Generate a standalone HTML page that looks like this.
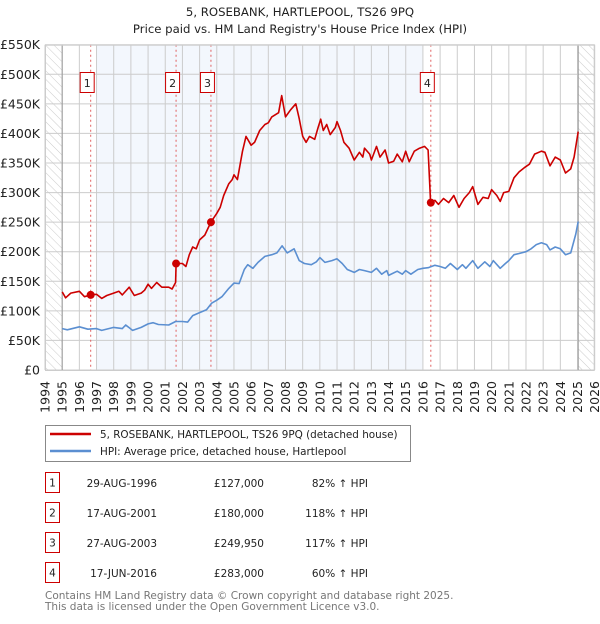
<!DOCTYPE html>
<html><head><meta charset="utf-8"><style>
body{margin:0;background:#fff;font-family:"DejaVu Sans","Liberation Sans",sans-serif;}
svg text{font-family:"DejaVu Sans","Liberation Sans",sans-serif;}
</style></head><body>
<svg id="chart" width="600" height="620" xmlns="http://www.w3.org/2000/svg">
<defs><pattern id="hatch" width="6" height="6" patternUnits="userSpaceOnUse" patternTransform="rotate(-45)"><line x1="0" y1="0" x2="0" y2="6" stroke="#ccc" stroke-width="1"/></pattern></defs>
<text x="300" y="16" text-anchor="middle" font-size="11.7" fill="#222">5, ROSEBANK, HARTLEPOOL, TS26 9PQ</text>
<text x="300" y="33" text-anchor="middle" font-size="11.7" fill="#222">Price paid vs. HM Land Registry's House Price Index (HPI)</text>
<g id="plot"></g>
<g>
<rect x="45.5" y="425.5" width="365" height="36" fill="#fff" stroke="#888"/>
<line x1="50" y1="434" x2="91" y2="434" stroke="#cc0000" stroke-width="2.5"/>
<text x="100" y="438" font-size="10.4" fill="#222">5, ROSEBANK, HARTLEPOOL, TS26 9PQ (detached house)</text>
<line x1="50" y1="451" x2="91" y2="451" stroke="#5b8fd1" stroke-width="2.5"/>
<text x="100" y="455" font-size="10.4" fill="#222">HPI: Average price, detached house, Hartlepool</text>
</g>
<g id="table" font-size="10.5" fill="#222"></g>
<text x="45" y="599" font-size="10.5" fill="#777">Contains HM Land Registry data © Crown copyright and database right 2025.</text>
<text x="45" y="610" font-size="10.5" fill="#777">This data is licensed under the Open Government Licence v3.0.</text>
</svg>
<script>
const redYears=[1995.0,1995.2,1995.5,1996.0,1996.3,1996.66,1997.0,1997.3,1997.6,1998.0,1998.3,1998.5,1998.9,1999.2,1999.6,1999.8,2000.0,2000.2,2000.5,2000.8,2001.2,2001.4,2001.6,2001.63,2002.0,2002.2,2002.4,2002.6,2002.8,2003.0,2003.3,2003.66,2004.0,2004.2,2004.4,2004.7,2004.9,2005.0,2005.2,2005.5,2005.7,2006.0,2006.2,2006.5,2006.8,2007.0,2007.2,2007.6,2007.78,2008.0,2008.3,2008.6,2008.8,2009.0,2009.2,2009.4,2009.7,2009.9,2010.05,2010.2,2010.4,2010.6,2010.9,2011.0,2011.2,2011.4,2011.7,2012.0,2012.3,2012.5,2012.6,2012.9,2013.0,2013.3,2013.5,2013.8,2014.0,2014.3,2014.5,2014.8,2015.0,2015.2,2015.5,2015.8,2016.1,2016.3,2016.45,2016.7,2016.9,2017.2,2017.5,2017.8,2018.1,2018.4,2018.7,2018.9,2019.2,2019.5,2019.8,2020.0,2020.3,2020.5,2020.7,2021.0,2021.3,2021.6,2021.9,2022.2,2022.5,2022.9,2023.1,2023.4,2023.7,2024.0,2024.3,2024.6,2024.8,2025.04];
const redValues=[132,122,130,133,124,127,128,121,126,130,133,127,140,126,130,135,145,138,148,140,140,137,148,180,180,175,195,208,205,220,228,250,265,275,295,315,322,330,322,370,395,380,385,405,415,418,428,435,464,428,440,450,425,395,385,395,390,410,424,405,415,398,410,420,405,385,375,355,368,360,375,365,355,378,360,372,350,353,365,352,370,352,370,375,378,372,283,287,280,290,283,295,275,290,300,310,280,292,290,305,295,285,300,302,325,335,342,348,365,370,368,345,360,355,333,340,360,403];
const blueYears=[1995.0,1995.3,1996.0,1996.5,1997.0,1997.3,1998.0,1998.5,1998.7,1999.1,1999.6,2000.0,2000.3,2000.6,2001.2,2001.6,2002.0,2002.3,2002.6,2003.0,2003.4,2003.7,2004.0,2004.3,2004.7,2005.0,2005.3,2005.6,2005.8,2006.1,2006.4,2006.8,2007.2,2007.5,2007.8,2008.1,2008.5,2008.8,2009.1,2009.5,2009.8,2010.0,2010.3,2010.7,2011.0,2011.3,2011.6,2012.0,2012.3,2012.6,2013.0,2013.3,2013.6,2013.9,2014.0,2014.5,2014.8,2015.0,2015.3,2015.7,2016.0,2016.3,2016.7,2017.0,2017.3,2017.6,2018.0,2018.3,2018.5,2018.9,2019.2,2019.6,2019.9,2020.1,2020.5,2020.8,2021.0,2021.3,2021.6,2022.0,2022.3,2022.6,2022.9,2023.2,2023.4,2023.7,2024.0,2024.3,2024.6,2024.9,2025.04];
const blueValues=[70,68,73,69,70,67,72,70,76,67,72,78,80,77,76,82,82,81,92,97,102,113,118,124,138,147,146,170,178,172,182,192,195,198,210,198,205,185,180,178,183,190,182,185,188,180,170,165,170,168,165,172,162,168,160,167,162,168,162,170,172,173,177,175,172,180,170,178,172,185,172,183,175,185,172,180,185,195,197,200,205,212,215,212,203,208,205,195,198,230,251];
const saleLabels=["1","2","3","4"];
const saleYears=[1996.66,2001.63,2003.66,2016.46];
const salePrices=[127,180,249.95,283];
const saleDates=["29-AUG-1996","17-AUG-2001","27-AUG-2003","17-JUN-2016"];
const salePriceText=["£127,000","£180,000","£249,950","£283,000"];
const saleHpiText=["82% ↑ HPI","118% ↑ HPI","117% ↑ HPI","60% ↑ HPI"];
const yTicks=[0,50,100,150,200,250,300,350,400,450,500,550];
const yTickLabels=["£0","£50K","£100K","£150K","£200K","£250K","£300K","£350K","£400K","£450K","£500K","£550K"];
const xTicks=[1994,1995,1996,1997,1998,1999,2000,2001,2002,2003,2004,2005,2006,2007,2008,2009,2010,2011,2012,2013,2014,2015,2016,2017,2018,2019,2020,2021,2022,2023,2024,2025,2026];

const NS="http://www.w3.org/2000/svg";
const L=45,R=594.7,T=44.7,B=370;
const x=y=>L+(y-1994)*(R-L)/32;
const yv=v=>B-v*(B-T)/550;
const g=document.getElementById('plot');
function mk(tag,attrs,parent){const e=document.createElementNS(NS,tag);for(const k in attrs)e.setAttribute(k,attrs[k]);(parent||g).appendChild(e);return e;}

let e=mk('rect',{x:L,y:T,width:x(1995)-L,height:B-T,fill:'url(#hatch)'});

e=mk('rect',{x:x(2025.04),y:T,width:R-x(2025.04),height:B-T,fill:'url(#hatch)'});

e=mk('rect',{x:x(1997),y:T,width:x(2016.0)-x(1997),height:B-T,fill:'#f3f7fd'});


yTicks.forEach((v,i)=>{
 const ln=mk('line',{x1:L,x2:R,y1:yv(v),y2:yv(v),stroke:'#ccc','stroke-width':1});
 
 const t=mk('text',{x:40,y:yv(v)+4.5,'text-anchor':'end','font-size':12.5,fill:'#222'});
 t.textContent=yTickLabels[i];
 
});
xTicks.forEach(yr=>{
 const ln=mk('line',{x1:x(yr),x2:x(yr),y1:T,y2:B,stroke:'#ccc','stroke-width':1});
 
 const t=mk('text',{x:0,y:0,'text-anchor':'end','font-size':12.5,fill:'#222',transform:`translate(${x(yr)+4.5},381) rotate(-90)`});
 t.textContent=yr;
 
});
e=mk('line',{x1:x(1995),x2:x(1995),y1:T,y2:B,stroke:'#999','stroke-width':1});

e=mk('line',{x1:x(2025.04),x2:x(2025.04),y1:T,y2:B,stroke:'#999','stroke-width':1});


saleYears.forEach((yr,i)=>{
 const ln=mk('line',{x1:x(yr),x2:x(yr),y1:T,y2:B,stroke:'#e06060','stroke-width':1,'stroke-dasharray':'2,3'});
 
});

const bp=blueYears.map((yr,i)=>x(yr).toFixed(1)+','+yv(blueValues[i]).toFixed(1)).join(' ');
e=mk('polyline',{points:bp,fill:'none',stroke:'#5b8fd1','stroke-width':1.6,'stroke-linejoin':'round'});

const rp=redYears.map((yr,i)=>x(yr).toFixed(1)+','+yv(redValues[i]).toFixed(1)).join(' ');
e=mk('polyline',{points:rp,fill:'none',stroke:'#cc0000','stroke-width':1.6,'stroke-linejoin':'round'});


saleYears.forEach((yr,i)=>{
 const c=mk('circle',{cx:x(yr),cy:yv(salePrices[i]),r:4,fill:'#cc0000'});
 
 const bx=mk('rect',{x:x(yr)-10.5,y:72.5,width:14,height:20,fill:'#fff',stroke:'#cc0000','stroke-width':1});
 
 const t=mk('text',{x:x(yr)-3.5,y:87,'text-anchor':'middle','font-size':11,fill:'#222'});
 t.textContent=saleLabels[i];
 
});
e=mk('rect',{x:L+0.5,y:T+0.5,width:R-L-1,height:B-T,fill:'none',stroke:'#ccc'});


const tb=document.getElementById('table');
saleLabels.forEach((lab,i)=>{
 const cy=483+i*30;
 const bx=mk('rect',{x:45.5,y:cy-10.5,width:14,height:20,fill:'#fff',stroke:'#cc0000'},tb);
 
 const t0=mk('text',{x:52.5,y:cy+3.5,'text-anchor':'middle'},tb);t0.textContent=lab;
 
 const t1=mk('text',{x:157,y:cy+4,'text-anchor':'end'},tb);t1.textContent=saleDates[i];
 
 const t2=mk('text',{x:264,y:cy+4,'text-anchor':'end'},tb);t2.textContent=salePriceText[i];
 
 const t3=mk('text',{x:368,y:cy+4,'text-anchor':'end'},tb);t3.textContent=saleHpiText[i];
 
});
</script>
</body></html>
